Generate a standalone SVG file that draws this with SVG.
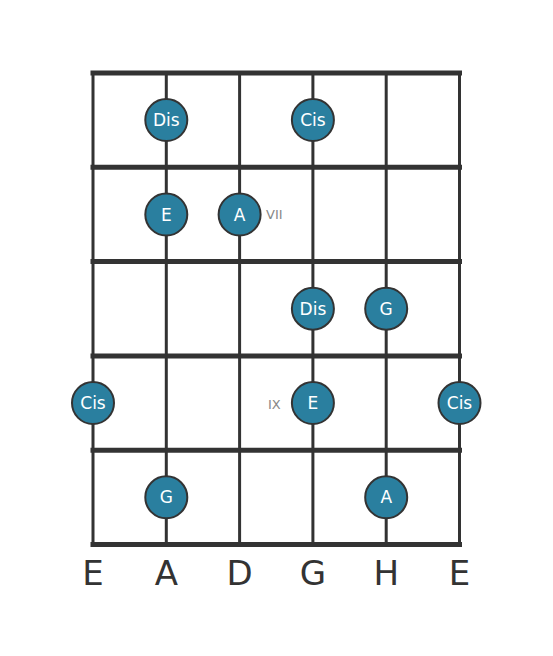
<svg xmlns="http://www.w3.org/2000/svg" width="553" height="656" viewBox="0 0 553 656">
<style>
.fret{stroke:#333;stroke-width:5;stroke-linecap:square}
.str{stroke:#333;stroke-width:3}
.dot circle{fill:#2a7f9f;stroke:#333;stroke-width:2}
.dot text{fill:#fff;font-family:"DejaVu Sans",sans-serif;font-size:17px;text-anchor:middle}
.fn{fill:#888;font-family:"DejaVu Sans",sans-serif;font-size:13px}
.sn{fill:#333;font-family:"DejaVu Sans",sans-serif;font-size:34px;text-anchor:middle}
</style>
<rect width="553" height="656" fill="#fff"/>
<g id="board">
<line class="str" x1="93" y1="73" x2="93" y2="544.5"/>
<line class="str" x1="166.3" y1="73" x2="166.3" y2="544.5"/>
<line class="str" x1="239.6" y1="73" x2="239.6" y2="544.5"/>
<line class="str" x1="312.9" y1="73" x2="312.9" y2="544.5"/>
<line class="str" x1="386.2" y1="73" x2="386.2" y2="544.5"/>
<line class="str" x1="459.5" y1="73" x2="459.5" y2="544.5"/>
<line class="fret" x1="93" y1="73" x2="459.5" y2="73"/>
<line class="fret" x1="93" y1="167.3" x2="459.5" y2="167.3"/>
<line class="fret" x1="93" y1="261.6" x2="459.5" y2="261.6"/>
<line class="fret" x1="93" y1="355.9" x2="459.5" y2="355.9"/>
<line class="fret" x1="93" y1="450.2" x2="459.5" y2="450.2"/>
<line class="fret" x1="93" y1="544.5" x2="459.5" y2="544.5"/>
</g>
<g id="fretnums">
<text class="fn" x="266" y="219">VII</text>
<text class="fn" x="268" y="408.5">IX</text>
</g>
<g id="n1" class="dot"><circle cx="166.3" cy="120" r="21"/><text x="166.3" y="126">Dis</text></g>
<g id="n2" class="dot"><circle cx="312.9" cy="120" r="21"/><text x="312.9" y="126">Cis</text></g>
<g id="n3" class="dot"><circle cx="166.3" cy="214.5" r="21"/><text x="166.3" y="220.5">E</text></g>
<g id="n4" class="dot"><circle cx="239.6" cy="214.5" r="21"/><text x="239.6" y="220.5">A</text></g>
<g id="n5" class="dot"><circle cx="312.9" cy="308.7" r="21"/><text x="312.9" y="314.7">Dis</text></g>
<g id="n6" class="dot"><circle cx="386.2" cy="308.7" r="21"/><text x="386.2" y="314.7">G</text></g>
<g id="n7" class="dot"><circle cx="93" cy="403" r="21"/><text x="93" y="409">Cis</text></g>
<g id="n8" class="dot"><circle cx="312.9" cy="403" r="21"/><text x="312.9" y="409">E</text></g>
<g id="n9" class="dot"><circle cx="459.5" cy="403" r="21"/><text x="459.5" y="409">Cis</text></g>
<g id="n10" class="dot"><circle cx="166.3" cy="497.3" r="21"/><text x="166.3" y="503.3">G</text></g>
<g id="n11" class="dot"><circle cx="386.2" cy="497.3" r="21"/><text x="386.2" y="503.3">A</text></g>
<g id="strings">
<text class="sn" x="93" y="585">E</text>
<text class="sn" x="166.3" y="585">A</text>
<text class="sn" x="239.6" y="585">D</text>
<text class="sn" x="312.9" y="585">G</text>
<text class="sn" x="386.2" y="585">H</text>
<text class="sn" x="459.5" y="585">E</text>
</g>
</svg>
